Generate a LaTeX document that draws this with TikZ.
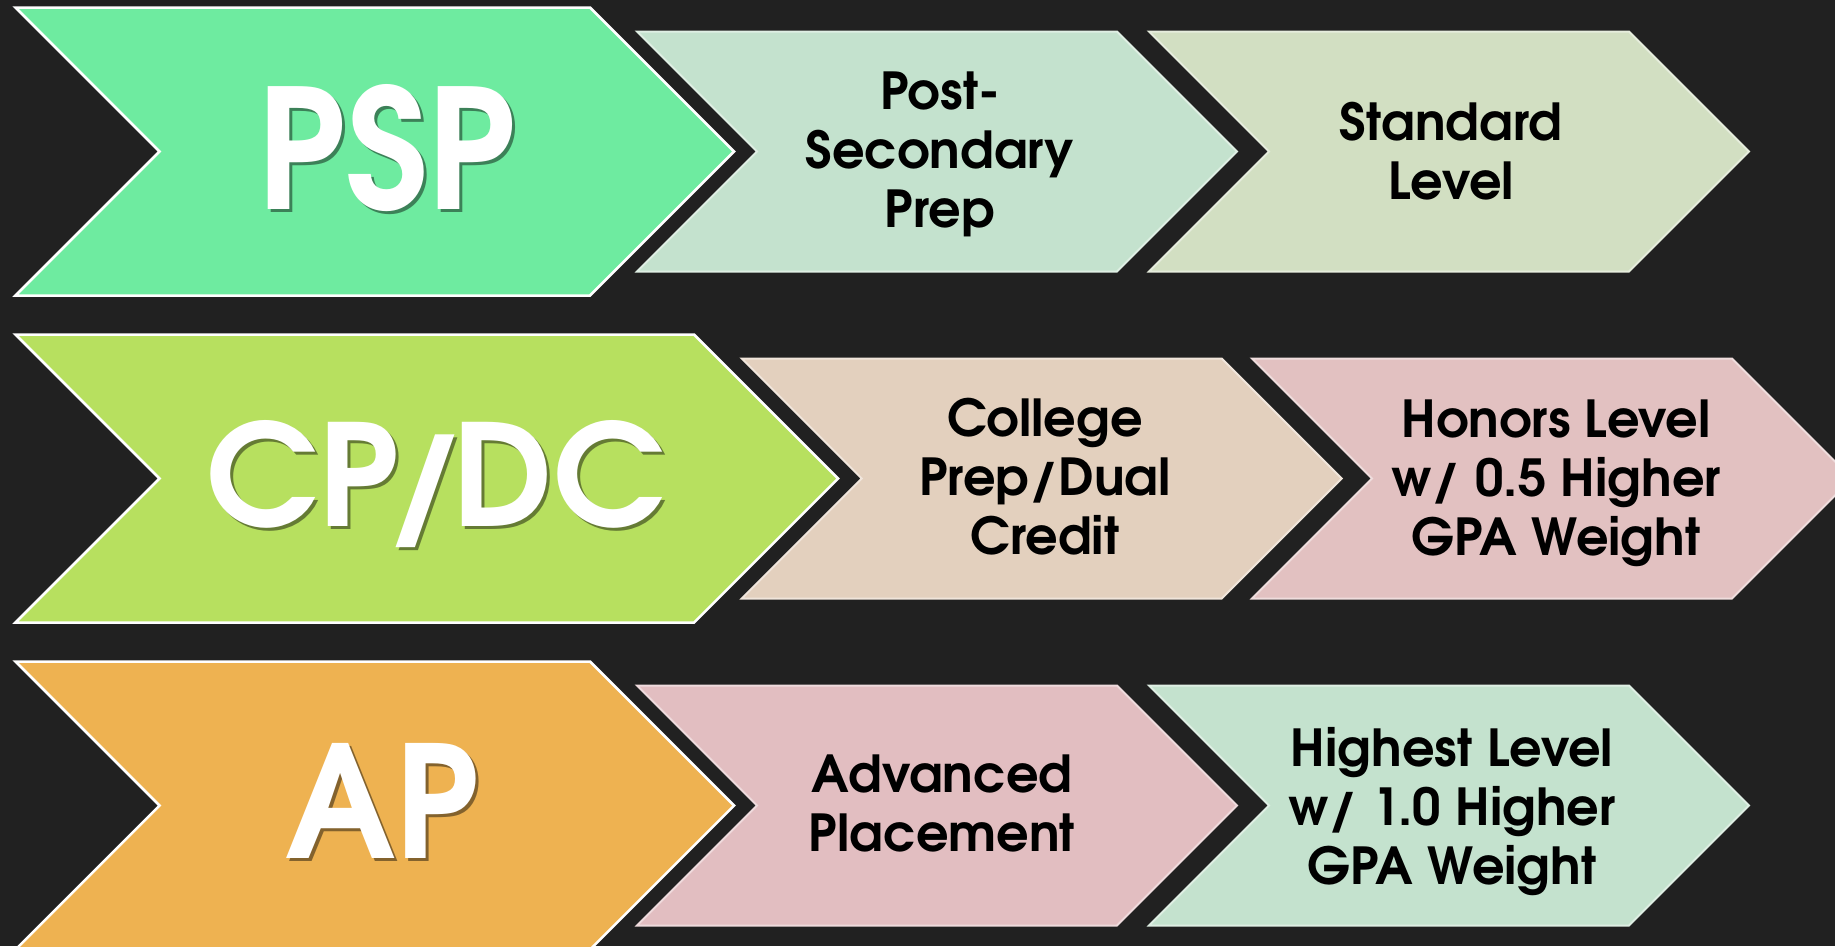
\documentclass[tikz,border=0pt]{standalone}
\usepackage{fontspec}
\setmainfont{TeX Gyre Adventor}
\definecolor{backdrop}{HTML}{212121}
\definecolor{pspgreen}{HTML}{6EEBA0}
\definecolor{cplime}{HTML}{B7E05F}
\definecolor{aporange}{HTML}{EEB251}
\definecolor{mint}{HTML}{C4E2CE}
\definecolor{sage}{HTML}{D2DFC2}
\definecolor{sand}{HTML}{E3D0BE}
\definecolor{rose}{HTML}{E2C1C1}
\definecolor{blush}{HTML}{E2BEC1}
\newcommand\dropshadow[2]{\rlap{\kern3pt\raisebox{-3pt}{\color{#1}#2}}#2}
\begin{document}
\begin{tikzpicture}[x=1pt, y=-1pt,
	bigarrow/.style={fill=#1, draw=white, line width=2.5pt},
	smallarrow/.style={fill=#1, draw=#1!55!white, line width=2pt},
	bigtext/.style={text=white, font=\bfseries, inner sep=0pt, anchor=base},
	smalltext/.style={font=\fontsize{51}{59}\selectfont\bfseries, align=center, inner sep=0pt, anchor=north}]
	\fill[backdrop] (0,0) rectangle (1835,946);
	\useasboundingbox (0,0) rectangle (1835,946);
	\clip (0,0) rectangle (1835,946);
	\foreach \x/\y/\w/\c in {15.5/151.5/718.5/pspgreen, 15.5/478.5/822.5/cplime, 15.5/805.5/718.5/aporange}
	\draw[bigarrow=\c] (\x,\y-144) -- ++(\w-144,0) -- ++(144,144) -- ++(-144,144) -- ++(144-\w,0) -- ++(144,-144) -- cycle;
	\foreach \x/\y/\c in {637/151.5/mint, 1149/151.5/sage, 741.7/478.5/sand, 1252/478.5/rose, 637/805.5/blush, 1149/805.5/mint}
	\draw[smallarrow=\c] (\x,\y-120) -- ++(480,0) -- ++(120,120) -- ++(-120,120) -- ++(-480,0) -- ++(120,-120) -- cycle;
	\foreach \x/\y/\w/\h/\c/\n/\t in {387/209/258pt/125pt/pspgreen/psp/PSP, 436/526.7/458pt/106pt/cplime/cpdc/{CP\kern-.1em\smash{/}\kern-.1em DC}, 382/858.3/194pt/115pt/aporange/ap/AP}
	\node[bigtext] (\n) at (\x,\y) {\dropshadow{\c!55!black}{\resizebox{\w}{\h}{\t}}};
	\foreach \x/\y/\n/\t in {940/72/postsec/{Post-\\Secondary\\Prep}, 1451/102/standard/{Standard\\Level}, 1045/398/college/{College\\Prep/Dual\\Credit}, 1556/400/honors/{Honors Level\\w/ 0.5 Higher\\GPA Weight}, 942/755/advanced/{Advanced\\Placement}, 1452/727/highest/{Highest Level\\w/ 1.0 Higher\\GPA Weight}}
	\node[smalltext] (\n) at (\x,\y) {\t};
\end{tikzpicture}
\end{document}
